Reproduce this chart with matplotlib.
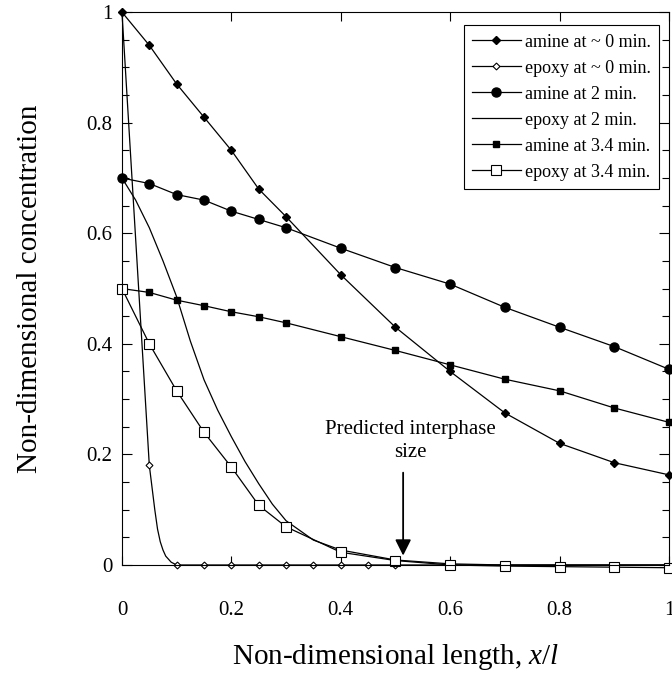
import matplotlib
matplotlib.use("Agg")
import matplotlib.pyplot as plt
from matplotlib.ticker import MultipleLocator, FuncFormatter

plt.rcParams['font.family'] = ['Liberation Serif', 'DejaVu Serif']
plt.rcParams['mathtext.fontset'] = 'custom'
plt.rcParams['mathtext.rm'] = 'Liberation Serif'
plt.rcParams['mathtext.it'] = 'Liberation Serif:italic'

# concentration profiles across the interphase
x_grid = [0, 0.05, 0.1, 0.15, 0.2, 0.25, 0.3, 0.4, 0.5, 0.6, 0.7, 0.8, 0.9, 1.0]
amine_0 = [1.0, 0.94, 0.87, 0.81, 0.75, 0.68, 0.63, 0.525, 0.43, 0.35, 0.275, 0.22, 0.185, 0.163]
amine_2 = [0.70, 0.69, 0.67, 0.66, 0.64, 0.625, 0.61, 0.573, 0.538, 0.508, 0.466, 0.43, 0.395, 0.354]
amine_34 = [0.50, 0.493, 0.479, 0.469, 0.458, 0.449, 0.438, 0.413, 0.388, 0.362, 0.336, 0.315, 0.284, 0.258]
epoxy_34 = [0.50, 0.40, 0.315, 0.24, 0.177, 0.108, 0.069, 0.023, 0.008, 0.0, -0.002, -0.003, -0.004, -0.005]

# epoxy at ~0 min: marked points and the drawn curve
epoxy_0_x = [0, 0.05, 0.1, 0.15, 0.2, 0.25, 0.3, 0.35, 0.4, 0.45, 0.5]
epoxy_0 = [1.0, 0.18, 0, 0, 0, 0, 0, 0, 0, 0, 0]
epoxy_0_curve_x = [0, 0.05, 0.055, 0.06, 0.065, 0.07, 0.075, 0.08, 0.09, 0.1, 1.0]
epoxy_0_curve = [1.0, 0.18, 0.14, 0.10, 0.065, 0.042, 0.027, 0.016, 0.005, 0.0, 0.0]

# epoxy at 2 min (curve only)
epoxy_2_x = [0, 0.025, 0.05, 0.075, 0.1, 0.125, 0.15, 0.175, 0.2, 0.225, 0.25, 0.275,
             0.3, 0.35, 0.4, 0.5, 0.6, 0.7, 0.8, 0.9, 1.0]
epoxy_2 = [0.70, 0.66, 0.61, 0.55, 0.485, 0.405, 0.335, 0.28, 0.232, 0.187, 0.147, 0.11,
           0.08, 0.045, 0.027, 0.009, 0.002, 0.0, 0.0, 0.0, 0.0]

fig = plt.figure(figsize=(6.72, 6.75), dpi=100)
ax = fig.add_axes([0.1815, 0.163, 0.814, 0.819])

lw = 0.9
ax.plot(epoxy_0_curve_x, epoxy_0_curve, color='black', lw=lw, clip_on=False)
ax.plot(epoxy_0_x, epoxy_0, color='black', lw=0, marker='D', ms=3.5,
        mfc='white', mec='black', mew=0.8, clip_on=False)
ax.plot(x_grid, amine_0, color='black', lw=lw, marker='D', ms=4.5,
        mfc='black', mec='black', clip_on=False)
ax.plot(x_grid, amine_2, color='black', lw=lw, marker='o', ms=6.5,
        mfc='black', mec='black', clip_on=False)
ax.plot(epoxy_2_x, epoxy_2, color='black', lw=lw, clip_on=False)
ax.plot(x_grid, amine_34, color='black', lw=lw, marker='s', ms=4,
        mfc='black', mec='black', clip_on=False)
ax.plot(x_grid, epoxy_34, color='black', lw=lw, marker='s', ms=7,
        mfc='white', mec='black', mew=0.8, clip_on=False)

# legend entries in plotting order
h_a0 = plt.Line2D([], [], color='black', lw=lw, marker='D', ms=4.5, mfc='black')
h_e0 = plt.Line2D([], [], color='black', lw=lw, marker='D', ms=3.5, mfc='white', mew=0.8)
h_a2 = plt.Line2D([], [], color='black', lw=lw, marker='o', ms=6.5, mfc='black')
h_e2 = plt.Line2D([], [], color='black', lw=lw)
h_a3 = plt.Line2D([], [], color='black', lw=lw, marker='s', ms=4, mfc='black')
h_e3 = plt.Line2D([], [], color='black', lw=lw, marker='s', ms=7, mfc='white', mew=0.8)
leg = ax.legend([h_a0, h_e0, h_a2, h_e2, h_a3, h_e3],
                ['amine at ~ 0 min.', 'epoxy at ~ 0 min.', 'amine at 2 min.',
                 'epoxy at 2 min.', 'amine at 3.4 min.', 'epoxy at 3.4 min.'],
                loc='upper right', bbox_to_anchor=(0.982, 0.976), fontsize=13,
                fancybox=False, framealpha=1, edgecolor='black', numpoints=1,
                handlelength=2.7, handletextpad=0.25, labelspacing=0.5,
                borderpad=0.45, borderaxespad=0)
leg.get_frame().set_linewidth(0.8)

ax.annotate('', xy=(0.514, 0.012), xytext=(0.514, 0.172),
            arrowprops=dict(arrowstyle='-|>', mutation_scale=24, color='black', lw=1.3))
ax.text(0.527, 0.224, 'Predicted interphase\nsize', ha='center', va='center',
        fontsize=15, linespacing=1.3)

ax.set_xlim(0, 1)
ax.set_ylim(0, 1)
ax.xaxis.set_major_locator(MultipleLocator(0.2))
ax.yaxis.set_major_locator(MultipleLocator(0.2))
ax.yaxis.set_minor_locator(MultipleLocator(0.05))
fmt = FuncFormatter(lambda v, p: '%g' % round(v, 2))
ax.xaxis.set_major_formatter(fmt)
ax.yaxis.set_major_formatter(fmt)
ax.tick_params(which='both', direction='in', top=True, right=True, width=0.8)
ax.tick_params(axis='x', which='major', length=6.5, pad=26, labelsize=15)
ax.tick_params(axis='y', which='major', length=7, pad=7, labelsize=15)
ax.tick_params(axis='y', which='minor', length=5)
for s in ax.spines.values():
    s.set_linewidth(0.8)

ax.set_xlabel(r'Non-dimensional length, $x/l$', fontsize=21, labelpad=16)
ax.set_ylabel('Non-dimensional concentration', fontsize=21, labelpad=31)

fig.savefig('out.png', dpi=100)
